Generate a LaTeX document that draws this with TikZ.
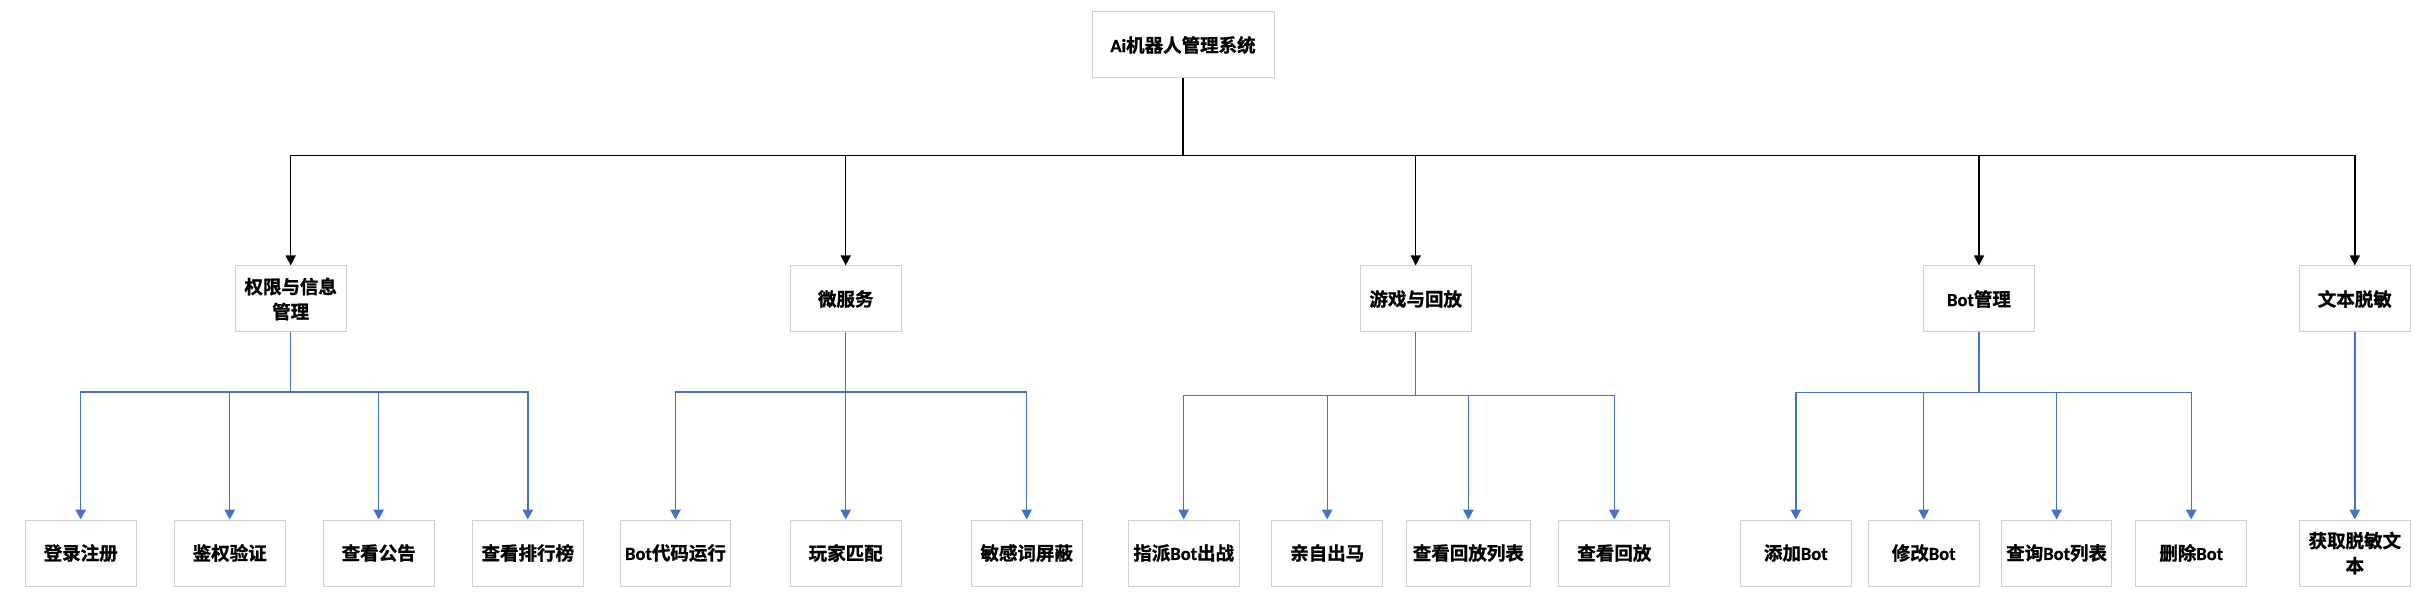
\documentclass[tikz,border=0pt]{standalone}
\usepackage{fontspec}
\setmainfont{Noto Sans CJK SC}[BoldFont={Noto Sans CJK SC Bold},BoldFeatures={FakeBold=1.2}]
\newfontfamily\latf{Carlito}[BoldFeatures={FakeBold=0.8}]
\usetikzlibrary{arrows.meta}
\definecolor{boxgray}{HTML}{D0D0D0}
\definecolor{lineblue}{HTML}{4472C4}
\newcommand{\Bt}{{\latf Bot}}
\begin{document}
\begin{tikzpicture}[x=1pt,y=-1pt,
  box/.style={draw=boxgray,line width=1pt,fill=white,inner sep=0pt,
    minimum width=110.7pt,minimum height=66pt,align=center,
    font=\fontsize{18.5}{25}\selectfont\bfseries},
  blk/.style={draw=black,line width=1.4pt,-{Triangle[width=10pt,length=10pt]}},
  blu/.style={draw=lineblue,line width=1.4pt,-{Triangle[width=10.5pt,length=10pt]}}]
\useasboundingbox (0,0) rectangle (2415,609);
% root
\node[box,minimum width=182pt] (root) at (1183,45) {{\latf Ai}机器人管理系统};
% level 2
\node[box] (A) at (290.7,299)  {权限与信息\\管理};
\node[box] (B) at (845.7,299)  {微服务};
\node[box] (C) at (1415.7,299) {游戏与回放};
\node[box] (D) at (1979,299)   {\Bt 管理};
\node[box] (E) at (2354.8,299) {文本脱敏};
% level 3
\node[box] (a1) at (80.7,553)   {登录注册};
\node[box] (a2) at (229.7,553)  {鉴权验证};
\node[box] (a3) at (378.7,553)  {查看公告};
\node[box] (a4) at (527.8,553)  {查看排行榜};
\node[box] (b1) at (675.5,553)  {\Bt 代码运行};
\node[box] (b2) at (845.7,553)  {玩家匹配};
\node[box] (b3) at (1026.7,553) {敏感词屏蔽};
\node[box] (c1) at (1183.7,553) {指派\Bt 出战};
\node[box] (c2) at (1327.2,553) {亲自出马};
\node[box,minimum width=124pt] (c3) at (1468.3,553) {查看回放列表};
\node[box] (c4) at (1614.3,553) {查看回放};
\node[box] (d1) at (1795.8,553) {添加\Bt};
\node[box] (d2) at (1923.7,553) {修改\Bt};
\node[box] (d3) at (2056.6,553) {查询\Bt 列表};
\node[box] (d4) at (2191.2,553) {删除\Bt};
\node[box] (e1) at (2354.8,553) {获取脱敏文\\本};
% bus coordinates
\coordinate (busR) at (1183,155.3);
\coordinate (busA) at (290.7,392);
\coordinate (busB) at (845.7,392);
\coordinate (busC) at (1415.7,395.7);
\coordinate (busD) at (1979,392.7);
% connectors
\foreach \n in {A,B,C,D,E} \draw[blk] (root.south) -- (busR) -| (\n.north);
\foreach \n in {a1,a2,a3,a4} \draw[blu] (A.south) -- (busA) -| (\n.north);
\foreach \n in {b1,b2,b3} \draw[blu] (B.south) -- (busB) -| (\n.north);
\foreach \n in {c1,c2,c3,c4} \draw[blu] (C.south) -- (busC) -| (\n.north);
\foreach \n in {d1,d2,d3,d4} \draw[blu] (D.south) -- (busD) -| (\n.north);
\draw[blu] (E.south) -- (e1.north);
\end{tikzpicture}
\end{document}
